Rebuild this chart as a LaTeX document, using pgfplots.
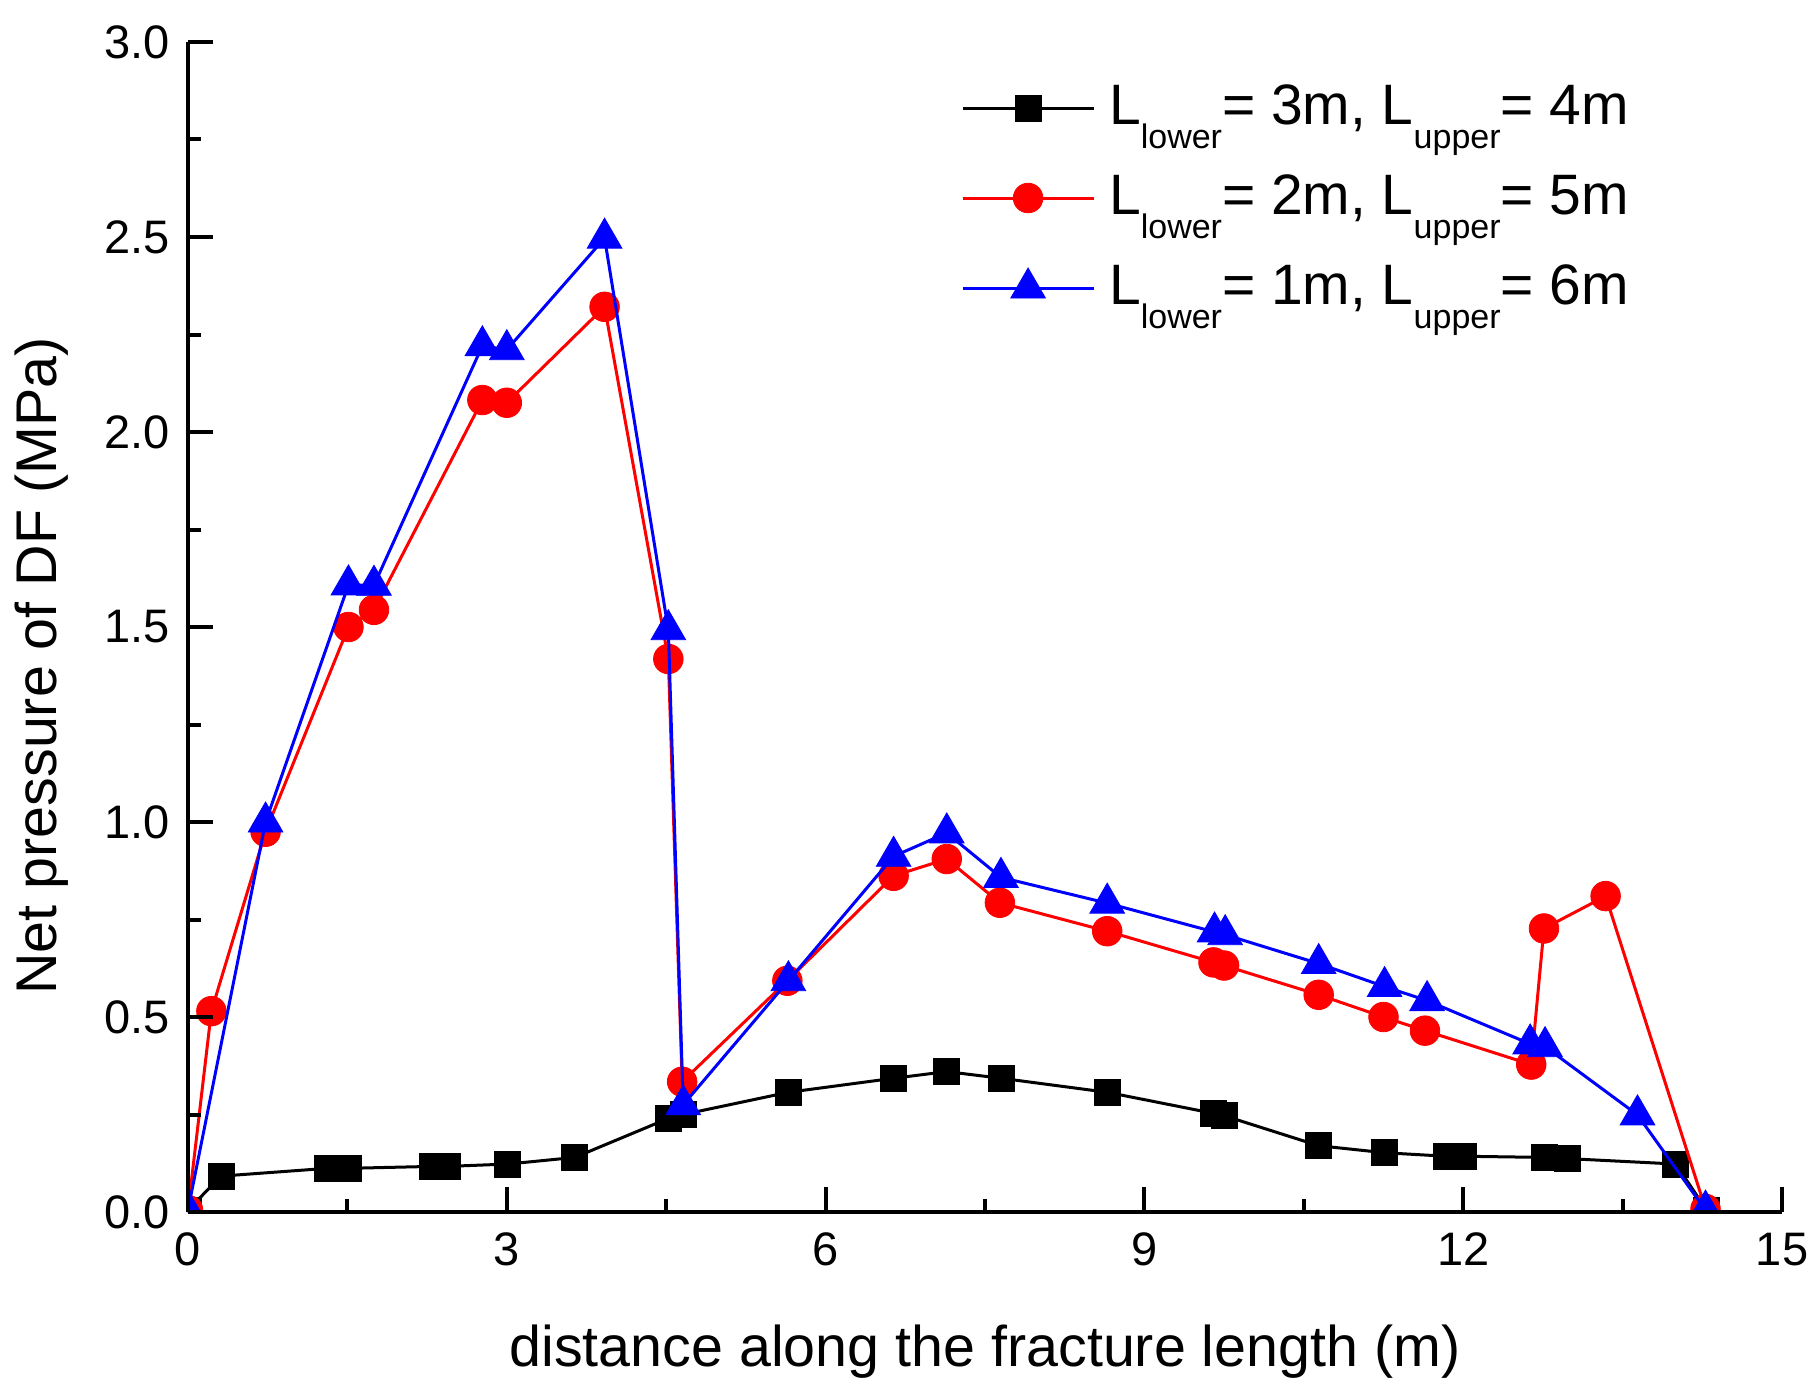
\documentclass[border=0pt]{standalone}
\usepackage{pgfplots}
\pgfplotsset{compat=1.18}
\usepackage{fontspec}
\setmainfont{Liberation Sans}
\newcommand{\sub}[1]{\raisebox{-12pt}{\fontsize{17}{17}\selectfont #1}}
\definecolor{myred}{RGB}{255,0,0}
\definecolor{myblue}{RGB}{0,0,255}
\begin{document}
\begin{tikzpicture}
\begin{axis}[name=ax, scale only axis, width=797pt, height=585pt,
  xmin=0, xmax=15, ymin=0, ymax=3,
  axis x line*=bottom, axis y line*=left,
  axis line style={line width=2pt,-},
  axis on top,
  clip marker paths=true,
  xtick={0,3,6,9,12,15}, ytick={0,0.5,1,1.5,2,2.5,3},
  minor x tick num=1, minor y tick num=1,
  tick align=inside, major tick length=12.5pt, minor tick length=6.5pt,
  tick style={black, line width=2pt},
  /pgf/number format/assume math mode=true,
  tick label style={font=\fontsize{23.5}{28}\selectfont},
  xticklabel style={yshift=-7pt},
  yticklabel style={xshift=-5.5pt, /pgf/number format/.cd, fixed, fixed zerofill, precision=1},
  xlabel={distance along the fracture length (m)},
  ylabel={Net pressure of DF (MPa)},
  every axis x label/.style={at={(axis description cs:0.5,0)}, anchor=base, yshift=-77pt, font=\fontsize{28.7}{34}\selectfont},
  every axis y label/.style={at={(axis description cs:-0.0822,0.4667)}, rotate=90, anchor=base, font=\fontsize{28.7}{34}\selectfont},
  legend style={draw=none, fill=none, inner sep=0pt, outer sep=0pt,
    at={(axis description cs:0.485,0.9641)}, anchor=north west,
    row sep=15pt, column sep=7pt,
    font=\fontsize{28.5}{33}\selectfont,
    nodes={inner sep=0pt, outer sep=0pt, text height=20pt, text depth=10pt}},
  legend cell align=left,
  legend image code/.code={\draw[mark repeat=2,mark phase=2,#1] plot coordinates {(0pt,3pt)(32.75pt,3pt)(65.5pt,3pt)};},
]
\addplot[black, line width=1.5pt, mark=square*, mark size=6.5pt, mark options={solid, fill=black, draw=black, line width=0.4pt}] coordinates {
(0,0.005) (0.31,0.092) (1.31,0.112) (1.51,0.112) (2.30,0.117) (2.44,0.117) (3.01,0.123) (3.64,0.14)
(4.52,0.24) (4.66,0.25) (5.65,0.307) (6.64,0.343) (7.14,0.36) (7.65,0.343) (8.65,0.307)
(9.65,0.253) (9.75,0.247) (10.64,0.17) (11.26,0.152) (11.84,0.143) (12.0,0.143)
(12.76,0.14) (12.98,0.137) (14.0,0.123) (14.29,0.005)
};
\addlegendentry{L\sub{lower}= 3m, L\sub{upper}= 4m}
\addplot[myred, line width=1.5pt, mark=*, mark size=7.4pt, mark options={solid, fill=myred, draw=myred, line width=0.4pt}] coordinates {
(0,0.005) (0.22,0.515) (0.73,0.975) (1.51,1.50) (1.75,1.544) (2.77,2.082) (3.0,2.075) (3.92,2.321)
(4.52,1.418) (4.65,0.334) (5.64,0.593) (6.64,0.862) (7.14,0.905) (7.64,0.793) (8.65,0.72)
(9.65,0.64) (9.75,0.632) (10.64,0.557) (11.25,0.50) (11.64,0.465) (12.64,0.378)
(12.76,0.727) (13.34,0.810) (14.28,0.008)
};
\addlegendentry{L\sub{lower}= 2m, L\sub{upper}= 5m}
\addplot[myblue, line width=1.5pt, mark=triangle*, mark size=10pt, mark options={solid, fill=myblue, draw=myblue, line width=0.4pt}] coordinates {
(0,0.005) (0.73,1.0) (1.51,1.608) (1.75,1.607) (2.77,2.221) (3.0,2.211) (3.92,2.497) (4.52,1.493)
(4.66,0.275) (5.65,0.593) (6.64,0.912) (7.14,0.972) (7.65,0.858) (8.65,0.792)
(9.66,0.718) (9.76,0.711) (10.64,0.637) (11.26,0.578) (11.66,0.542) (12.63,0.431)
(12.77,0.424) (13.64,0.249) (14.28,0.005)
};
\addlegendentry{L\sub{lower}= 1m, L\sub{upper}= 6m}
\end{axis}
\pgfresetboundingbox
\path (ax.south west) ++(-94pt,-91pt) coordinate (bl);
\path (ax.north east) ++(17.5pt,21pt) coordinate (tr);
\useasboundingbox (bl) rectangle (tr);
\end{tikzpicture}
\end{document}
